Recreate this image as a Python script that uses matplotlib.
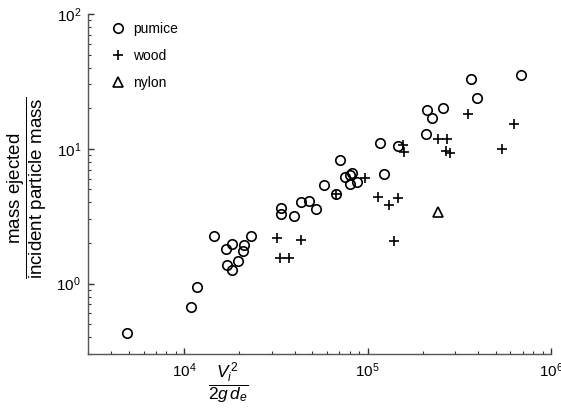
import matplotlib
matplotlib.use("Agg")
import matplotlib.pyplot as plt
import numpy as np

plt.rcParams['font.family'] = ['Liberation Sans', 'DejaVu Sans']
plt.rcParams['mathtext.fontset'] = 'custom'
plt.rcParams['mathtext.rm'] = 'Liberation Sans'
plt.rcParams['mathtext.it'] = 'Liberation Sans:italic'
plt.rcParams['mathtext.bf'] = 'Liberation Sans:bold'

# pumice
pumice_x = [4890, 10820, 11670, 14500, 16790, 18100, 17000, 18260, 19590, 20960,
            21300, 23060, 33880, 33880, 39720, 43380, 47950, 52560, 58090, 67530,
            70400, 75320, 79700, 82040, 80520, 87550, 116100, 122050, 145700, 208800,
            210100, 225100, 256800, 365800, 394300, 687300]
pumice_y = [0.432, 0.673, 0.939, 2.236, 1.805, 1.975, 1.375, 1.269, 1.462, 1.733,
            1.919, 2.263, 3.627, 3.275, 3.166, 4.017, 4.128, 3.584, 5.364, 4.627,
            8.252, 6.125, 6.337, 6.556, 5.465, 5.655, 10.96, 6.502, 10.50, 12.80,
            19.26, 16.80, 20.23, 32.86, 23.98, 35.23]

# wood
wood_x = [31950, 33460, 37120, 43280, 67530, 96180, 113900, 130800, 145600, 138500,
          155500, 158500, 243300, 271000, 265900, 282100, 350500, 625600, 540200]
wood_y = [2.162, 1.549, 1.549, 2.114, 4.627, 6.094, 4.358, 3.817, 4.284, 2.068,
          10.74, 9.454, 11.84, 11.84, 9.616, 9.247, 18.20, 15.28, 9.916]

# nylon
nylon_x = [240600]
nylon_y = [3.417]

fig = plt.figure(figsize=(5.61, 4.16), dpi=100)
ax = fig.add_axes([88/561, 1-354/416, (551-88)/561, (354-14)/416])

ax.plot(pumice_x, pumice_y, 'o', mfc='none', mec='black', ms=6.8, mew=1.2,
        ls='none', label='pumice')
ax.plot(wood_x, wood_y, '+', color='black', ms=7, mew=1.2, ls='none', label='wood')
ax.plot(nylon_x, nylon_y, '^', mfc='none', mec='black', ms=6.8, mew=1.2,
        ls='none', label='nylon')

ax.set_xscale('log')
ax.set_yscale('log')
ax.set_xlim(10**3.475, 1e6)
ax.set_ylim(10**-0.523, 1e2)

for s in ['top', 'right']:
    ax.spines[s].set_visible(False)
for s in ['left', 'bottom']:
    ax.spines[s].set_color('#555555')
    ax.spines[s].set_linewidth(1.0)

ax.tick_params(which='major', direction='in', length=4, width=1, color='#333333',
               labelsize=11, pad=5)
ax.tick_params(which='minor', direction='in', length=2.5, width=0.8, color='#333333')

leg = ax.legend(loc='upper left', frameon=False, fontsize=10, labelspacing=0.95,
                handletextpad=0.5, borderaxespad=0, bbox_to_anchor=(0.035, 0.993),
                handlelength=1.2)

fig.text(27/561, 1-188/416,
         r'$\dfrac{\mathrm{mass\ ejected}}{\mathrm{incident\ particle\ mass}}$',
         rotation=90, ha='center', va='center', fontsize=13.5)
fig.text(228/561, 1-383/416, r'$\dfrac{V_i^{\,2}}{2g\,d_e}$',
         ha='center', va='center', fontsize=12.5)

fig.savefig('out.png', dpi=100)
